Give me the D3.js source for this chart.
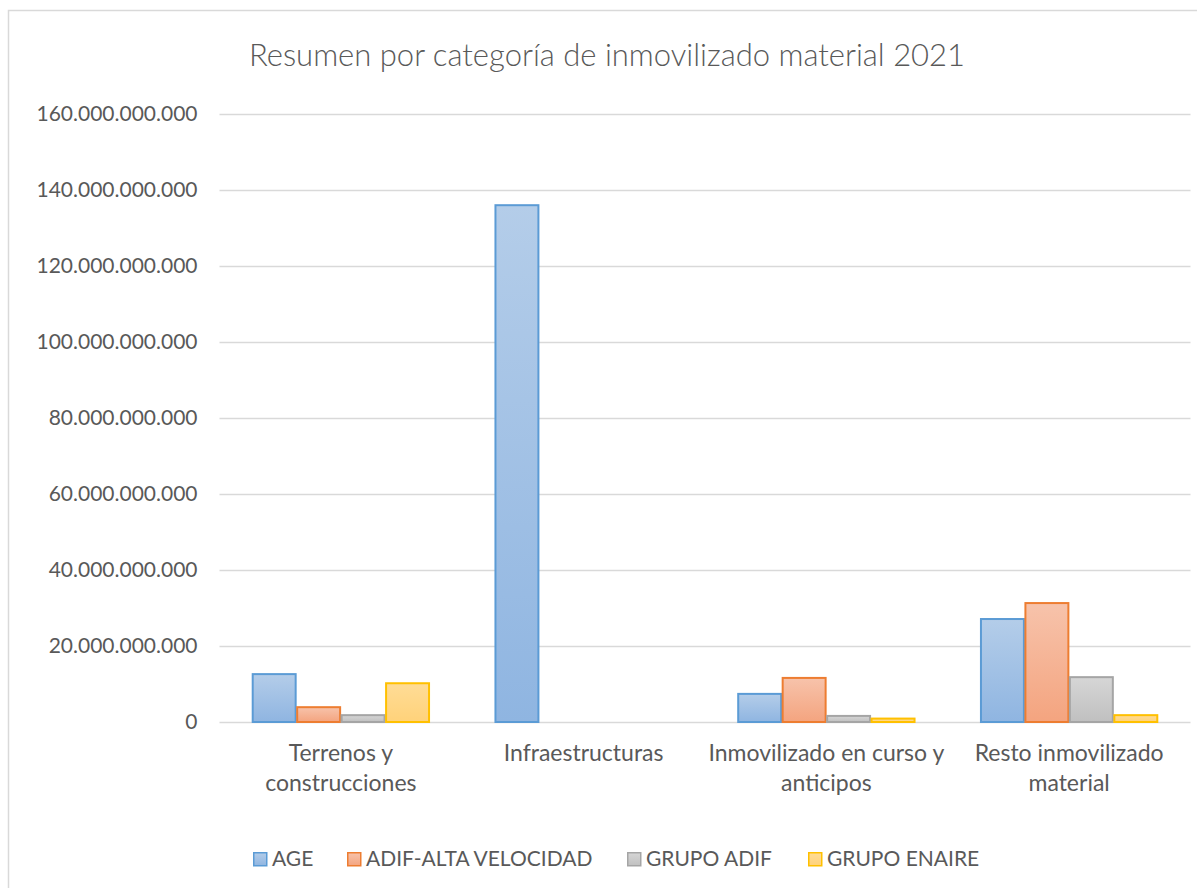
<!DOCTYPE html>
<html><head><meta charset="utf-8">
<script src="https://cdn.jsdelivr.net/npm/d3@7"></script>
<style>body{margin:0;background:#fff;} text{font-family:Lato,"Open Sans",sans-serif;fill:#595959;}</style>
</head><body>
<svg id="c" width="1197" height="888"></svg>
<script>
const categories = [["Terrenos y","construcciones"],["Infraestructuras"],["Inmovilizado en curso y","anticipos"],["Resto inmovilizado","material"]];
const seriesNames = ["AGE","ADIF-ALTA VELOCIDAD","GRUPO ADIF","GRUPO ENAIRE"];
const AGE = [12.6e9, 136.0e9, 7.4e9, 27.1e9];
const ADIF_AV = [3.9e9, 0, 11.6e9, 31.3e9];
const GRUPO_ADIF = [1.8e9, 0, 1.6e9, 11.8e9];
const GRUPO_ENAIRE = [10.2e9, 0, 0.9e9, 1.8e9];
const yTicks = [0,20e9,40e9,60e9,80e9,100e9,120e9,140e9,160e9];
const title = "Resumen por categoría de inmovilizado material 2021";

const series = [AGE, ADIF_AV, GRUPO_ADIF, GRUPO_ENAIRE];
const colors = [
  {top:"#b4cde9", bot:"#8fb5e1", stroke:"#5b9bd5"},
  {top:"#f7c3ab", bot:"#f4a47f", stroke:"#ed7d31"},
  {top:"#d6d6d6", bot:"#c0c0c0", stroke:"#a5a5a5"},
  {top:"#ffdc96", bot:"#ffd27a", stroke:"#ffc000"}
];
const svg = d3.select("#c");
const defs = svg.append("defs");
colors.forEach((c,i)=>{
  const g = defs.append("linearGradient").attr("id","g"+i).attr("x1",0).attr("y1",0).attr("x2",0).attr("y2",1);
  g.append("stop").attr("offset","0%").attr("stop-color",c.top);
  g.append("stop").attr("offset","100%").attr("stop-color",c.bot);
});
svg.append("rect").attr("x",8.5).attr("y",10.5).attr("width",1300).attr("height",1000).attr("fill","#fff").attr("stroke","#d9d9d9").attr("stroke-width",1.5);

const x0 = 219.5, x1 = 1190.5, yTop = 114, yBot = 722;
const x = d3.scaleBand().domain(d3.range(categories.length)).range([x0,x1]).paddingInner(0).paddingOuter(0);
const y = d3.scaleLinear().domain([0,160e9]).range([yBot,yTop]);
const fmt = v => d3.format(",")(v).replace(/,/g,".");

const ax = svg.append("g").attr("transform",`translate(${x0},0)`)
  .call(d3.axisLeft(y).tickValues(yTicks).tickFormat(fmt).tickSize(-(x1-x0)).tickPadding(22));
ax.select(".domain").remove();
ax.selectAll(".tick line").attr("stroke","#d9d9d9").attr("stroke-width",1.5);
ax.selectAll(".tick text").style("font-size","21px").attr("fill","#595959");

const bw = x.bandwidth();
const barW = bw/(4+1.46);
const gapOuter = (bw - 4*barW)/2;
series.forEach((s,si)=>{
  svg.append("g").selectAll("rect").data(s.map((v,i)=>({v,i})).filter(d=>d.v>0)).join("rect")
    .attr("x",d=>x(d.i)+gapOuter+si*barW+0.75)
    .attr("y",d=>y(d.v))
    .attr("width",barW-1.5)
    .attr("height",d=>yBot-y(d.v))
    .attr("fill",`url(#g${si})`)
    .attr("stroke",colors[si].stroke).attr("stroke-width",2);
});

const cat = svg.append("g");
categories.forEach((lines,i)=>{
  lines.forEach((l,j)=>{
    cat.append("text").attr("x",x(i)+bw/2).attr("y",761+j*30).attr("text-anchor","middle")
      .style("font-size","23px").text(l);
  });
});

svg.append("text").attr("x",607).attr("y",66).attr("text-anchor","middle").style("font-size","31px").style("font-weight","300").text(title);

const legX = [253, 347, 627, 808];
const leg = svg.append("g");
seriesNames.forEach((n,i)=>{
  leg.append("rect").attr("x",legX[i]+0.75).attr("y",852.75).attr("width",13).attr("height",13)
    .attr("fill",`url(#g${i})`).attr("stroke",colors[i].stroke).attr("stroke-width",1.5);
  leg.append("text").attr("x",legX[i]+19).attr("y",866).style("font-size","21px").text(n);
});
</script>
</body></html>
